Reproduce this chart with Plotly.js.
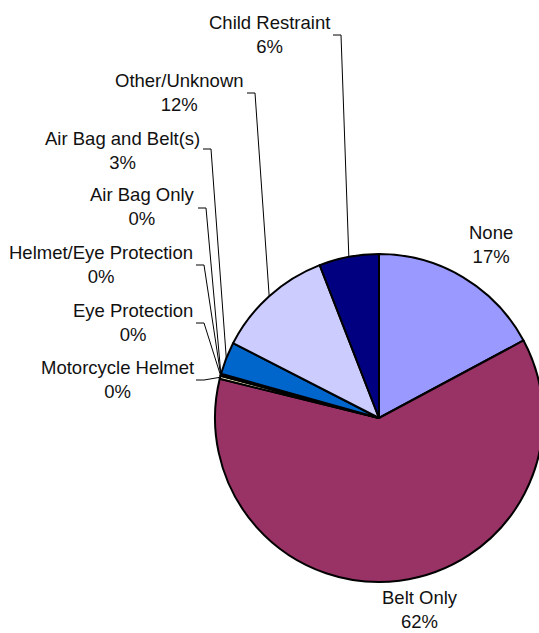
<!DOCTYPE html>
<html><head><meta charset="utf-8">
<script src="https://cdn.plot.ly/plotly-3.0.1.min.js"></script>
<style>html,body{margin:0;padding:0;overflow:hidden;background:#fff}#chart{width:560px;height:633px}</style>
</head><body><div id="chart"></div>
<script>
// ---- data ----
const categories = ["None","Belt Only","Motorcycle Helmet","Eye Protection","Helmet/Eye Protection","Air Bag Only","Air Bag and Belt(s)","Other/Unknown","Child Restraint"];
const values = [17.2, 61.8, 0.3, 0.05, 0.05, 0.1, 3.2, 11.6, 5.9];
const colors = ["#9999FF","#993366","#FFFFCC","#CCFFFF","#660066","#FF8080","#0066CC","#CCCCFF","#000080"];

// ---- layout (pixels) ----
const W = 560, H = 633;
const cx = 379, cy = 418, R = 164;
// label block centres and leader hook start (null = no leader)
const labelPos = [
  {x:491, y:245, hook:null},
  {x:420, y:609, hook:null},
  {x:117, y:379, hook:[196,380]},
  {x:133, y:322, hook:[196,323]},
  {x:101, y:265, hook:[196,265]},
  {x:142, y:207, hook:[198,208]},
  {x:122, y:150, hook:[203,149]},
  {x:179, y:93,  hook:[247,93]},
  {x:269, y:34,  hook:[333,35]}
];

const px = v => v / W;
const py = v => 1 - v / H;
const total = values.reduce((a,b)=>a+b,0);

const annotations = [];
const shapes = [];
let cum = 0;
values.forEach((v,i)=>{
  const mid = (cum + v/2) / total;
  cum += v;
  const th = mid * 2 * Math.PI;
  const rx = cx + R * Math.sin(th), ry = cy - R * Math.cos(th);
  const lp = labelPos[i];
  annotations.push({
    xref:'paper', yref:'paper', x:px(lp.x), y:py(lp.y),
    xanchor:'center', yanchor:'middle', showarrow:false, align:'center',
    text: categories[i] + '<br>' + Math.round(v/total*100) + '%',
    font:{family:'Liberation Sans, Arial, sans-serif', size:18.5, color:'#111'}
  });
  if (lp.hook) {
    const [hx,hy] = lp.hook;
    shapes.push({
      type:'path', xref:'paper', yref:'paper', layer:'above',
      path:`M ${px(hx)} ${py(hy)} L ${px(hx+8)} ${py(hy)} L ${px(rx)} ${py(ry)}`,
      line:{color:'#000', width:1}
    });
  }
});

const trace = {
  type:'pie', labels:categories, values:values, sort:false,
  direction:'clockwise', rotation:0, textinfo:'none', hoverinfo:'none',
  marker:{colors:colors, line:{color:'#000', width:2}},
  domain:{x:[(cx-R)/W,(cx+R)/W], y:[1-(cy+R)/H, 1-(cy-R)/H]},
  showlegend:false
};

Plotly.newPlot('chart',[trace],{
  width:W, height:H, margin:{l:0,r:0,t:0,b:0},
  paper_bgcolor:'#fff', showlegend:false,
  annotations:annotations, shapes:shapes
},{staticPlot:true});
</script></body></html>
